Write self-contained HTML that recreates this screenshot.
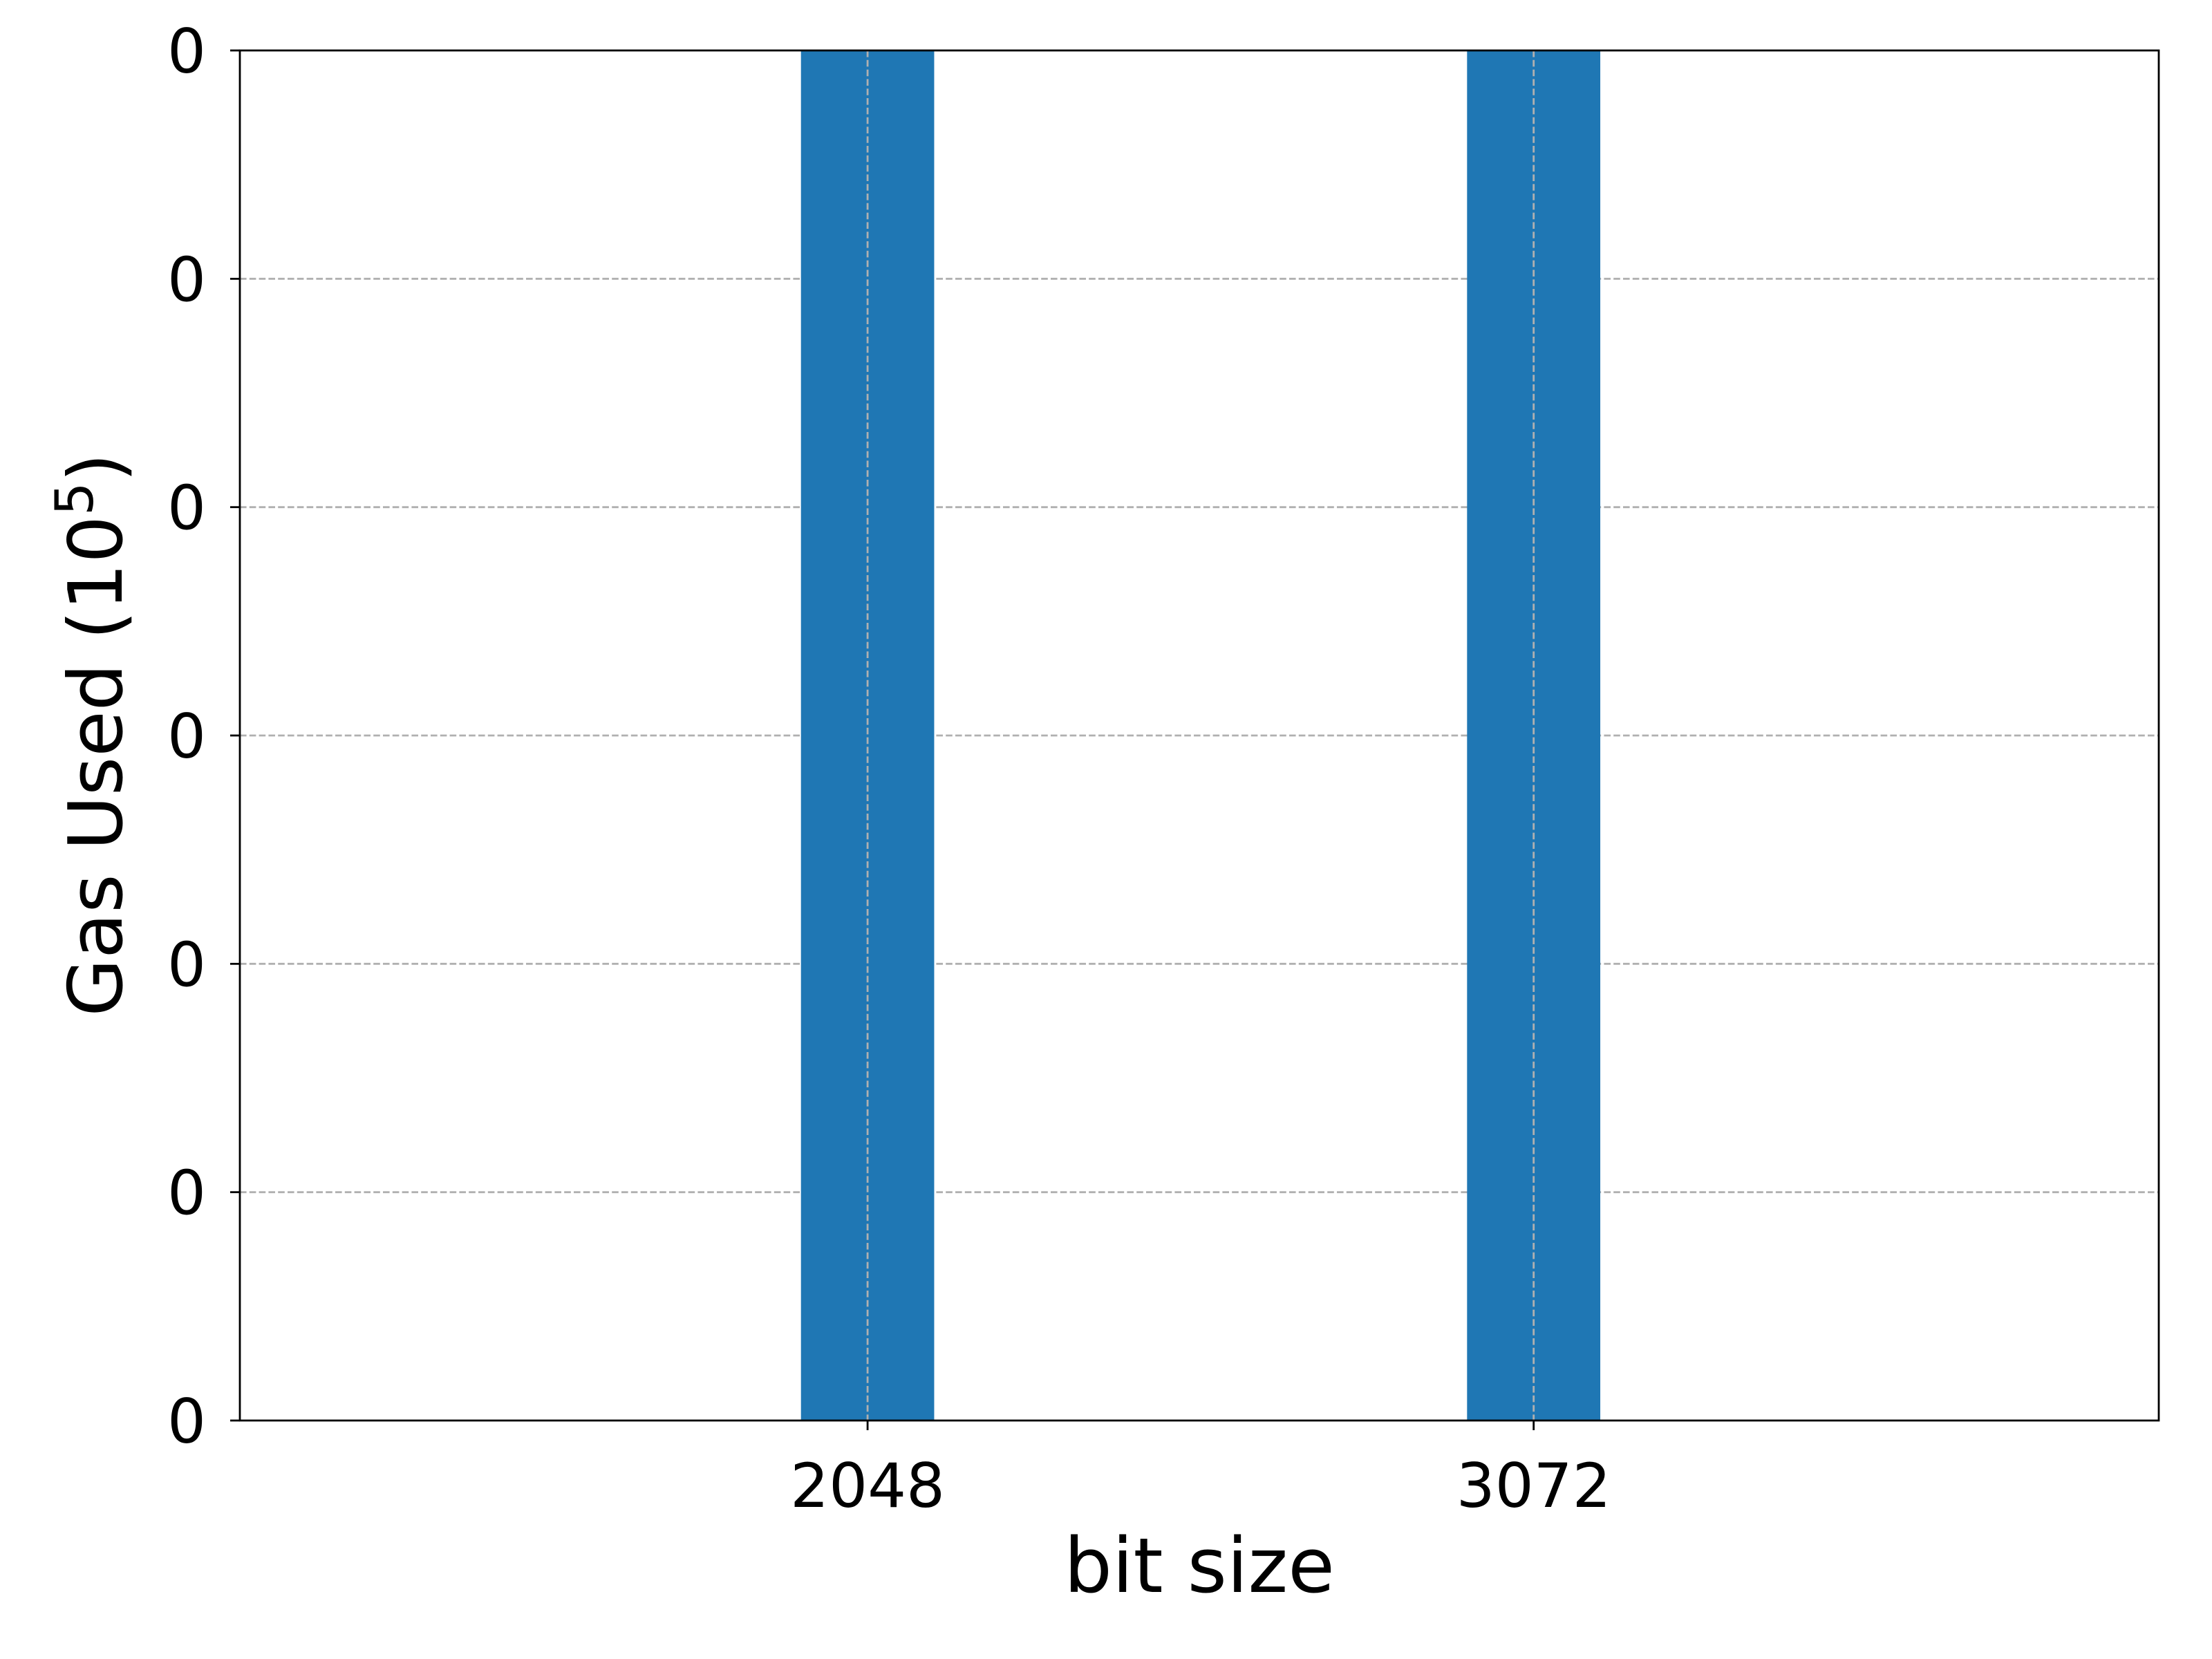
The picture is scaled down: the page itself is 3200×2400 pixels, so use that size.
<!DOCTYPE html>
<html><head><meta charset="utf-8"><style>
html,body{margin:0;padding:0;background:#fff;}
svg{display:block;font-family:"DejaVu Sans","Liberation Sans",sans-serif;}
</style></head><body>
<svg id="chart" width="3200" height="2400" viewBox="0 0 3200 2400" xmlns="http://www.w3.org/2000/svg">
<defs><clipPath id="plotclip"><rect x="347" y="73" width="2776" height="1982"/></clipPath></defs>
<rect x="0" y="0" width="3200" height="2400" fill="#fff"/>
<g id="grid"></g>
<g id="bars" clip-path="url(#plotclip)"></g>
<g id="vgrid"></g>
<rect x="347" y="73" width="2776" height="1982" fill="none" stroke="#000" stroke-width="2.8"/>
<g id="axes"></g>
<text x="1735" y="2303" font-size="110" text-anchor="middle">bit size</text>
<text transform="translate(176,1063) rotate(-90)" font-size="108" text-anchor="middle">Gas Used (10<tspan font-size="76" dy="-42">5</tspan><tspan dy="42">)</tspan></text>
</svg>
<script>
const categories = [2048, 3072];
const values = [12.5, 14];
const yTicks = [0, 1, 2, 3, 4, 5, 6];
const yTickLabels = ["0", "0", "0", "0", "0", "0", "0"];

const L = 347, R = 3123, T = 73, B = 2055;
const xMin = 1083, xMax = 4033, yMin = 0, yMax = 6;
const xs = v => L + (v - xMin) / (xMax - xMin) * (R - L);
const ys = v => B - (v - yMin) / (yMax - yMin) * (B - T);
const barW = 204.8;
const NS = "http://www.w3.org/2000/svg";
const mk = (tag, attrs, parent) => { const e = document.createElementNS(NS, tag); for (const k in attrs) e.setAttribute(k, attrs[k]); parent.appendChild(e); return e; };
const grid = document.getElementById('grid'), bars = document.getElementById('bars'), vgrid = document.getElementById('vgrid'), axes = document.getElementById('axes');

yTicks.forEach((t, i) => {
  const y = ys(t);
  if (t !== yMin && t !== yMax) {
    const g = mk('line', {x1: L, x2: R, y1: y, y2: y, stroke: '#b0b0b0', 'stroke-width': 2.8, 'stroke-dasharray': '9.6,4.2'}, grid);
    
    
  }
  const tk = mk('line', {x1: L - 14, x2: L, y1: y, y2: y, stroke: '#000', 'stroke-width': 2.8}, axes);
  
  
  const lb = mk('text', {x: L - 49, y: y + 32, 'font-size': 88, 'text-anchor': 'end'}, axes);
  lb.textContent = yTickLabels[i];
  
  
});

categories.forEach((c, i) => {
  const x = xs(c);
  const top = ys(values[i]);
  const b = mk('rect', {x: xs(c - barW / 2), y: top, width: xs(c + barW / 2) - xs(c - barW / 2), height: B - top, fill: '#1f77b4'}, bars);
  
  
  const g = mk('line', {x1: x, x2: x, y1: T, y2: B, stroke: '#b0b0b0', 'stroke-width': 2.8, 'stroke-dasharray': '9.6,4.2'}, vgrid);
  
  
  const tk = mk('line', {x1: x, x2: x, y1: B, y2: B + 14, stroke: '#000', 'stroke-width': 2.8}, axes);
  
  
  const lb = mk('text', {x: x, y: 2180, 'font-size': 88, 'text-anchor': 'middle'}, axes);
  lb.textContent = String(c);
  
  
});
</script>
</body></html>
